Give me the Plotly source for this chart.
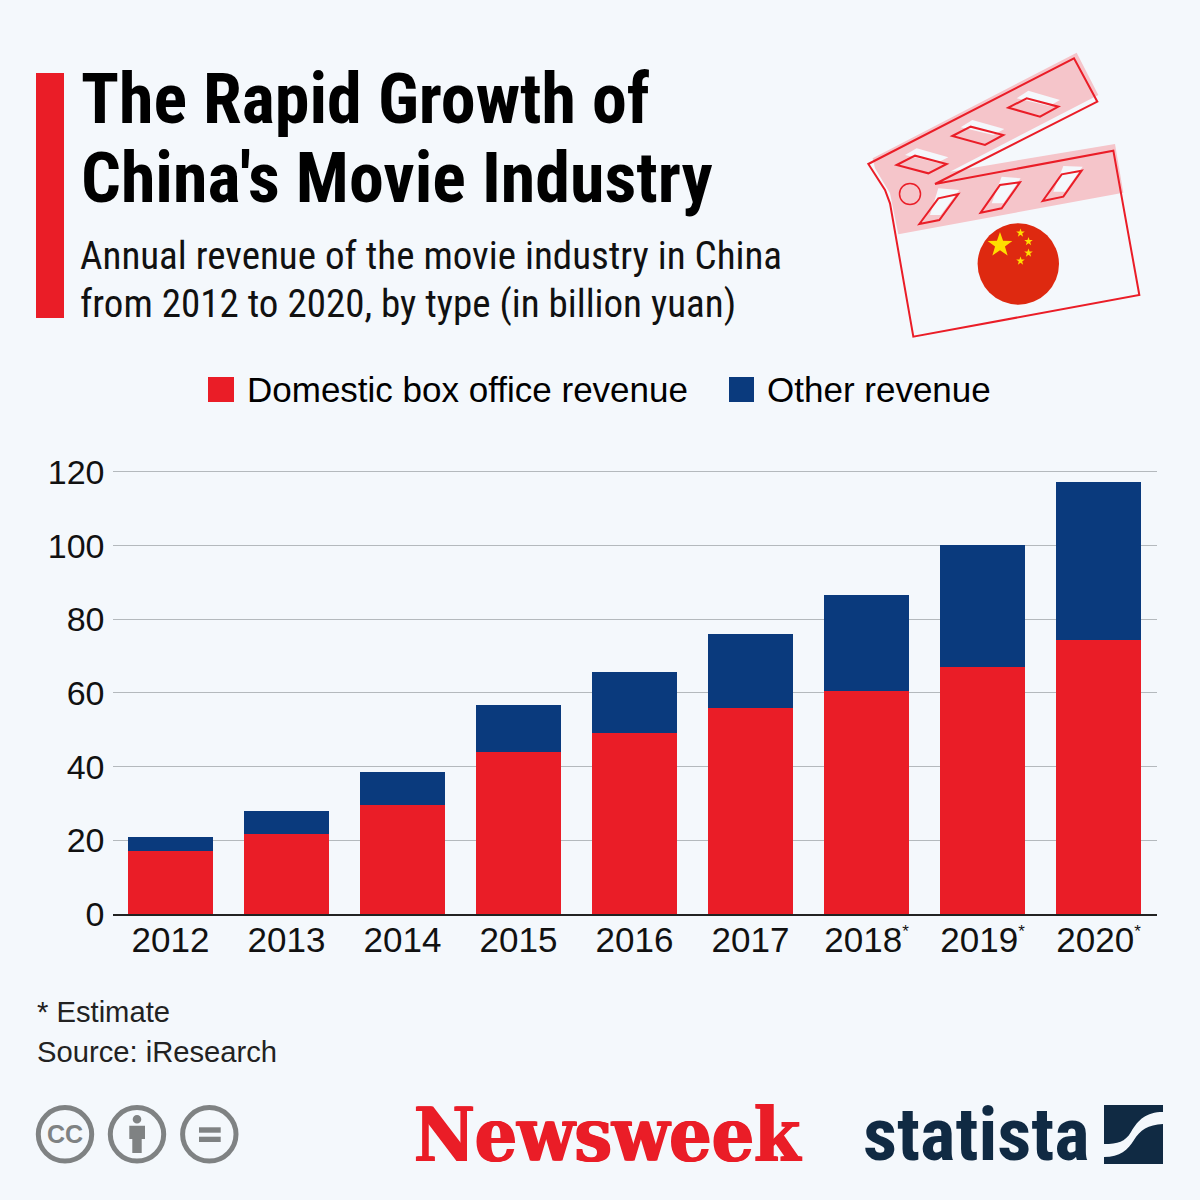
import math
import plotly.graph_objects as go

STAR = '<sup><span style="font-size:17px">*</span></sup>'
years = ["2012", "2013", "2014", "2015", "2016", "2017",
         "2018" + STAR, "2019" + STAR, "2020" + STAR]
box_office = [17.1, 21.7, 29.6, 44.0, 49.1, 55.9, 60.5, 67.0, 74.4]
other = [3.8, 6.3, 9.0, 12.7, 16.6, 20.1, 26.1, 33.2, 42.9]
y_ticks = [0, 20, 40, 60, 80, 100, 120]

title_lines = ["The Rapid Growth of", "China's Movie Industry"]
subtitle_lines = ["Annual revenue of the movie industry in China",
                  "from 2012 to 2020, by type (in billion yuan)"]
names = ["Domestic box office revenue", "Other revenue"]

BG = "#f4f8fc"
RED = "#ea1d27"
BLUE = "#0a3a7d"
PINK = "#f5c5ca"
GRAY = "#7f8283"
NAVY = "#102a43"
SIZE = 1200
NARROW = "Roboto Condensed"
ARIAL = "Liberation Sans"

# y axis runs a bit past 120, plotly drops a gridline that sits on the top edge
Y_MAX = 121
Y_ZERO_PX = 914
Y_UNIT_PX = (914 - 472) / 120


# margins are 0, so paper coords are just pixels / 1200
def px(x):
    return x / SIZE


def py(y):
    return 1 - y / SIZE


def poly(points):
    return "M " + " L ".join(f"{px(x):.5f},{py(y):.5f}" for x, y in points) + " Z"


def zoomed(points):
    return [(850 + x / 3, 40 + y / 3) for x, y in points]


def star(cx, cy, r):
    pts = []
    for i in range(10):
        rad = r if i % 2 == 0 else r * 0.4
        a = math.radians(-90 + 36 * i)
        pts.append((cx + rad * math.cos(a), cy + rad * math.sin(a)))
    return pts


shapes = []


def add_path(path, fill=None, line=None, width=0):
    shapes.append(dict(type="path", path=path, xref="paper", yref="paper",
                       fillcolor=fill or "rgba(0,0,0,0)",
                       line=dict(color=line or "rgba(0,0,0,0)", width=width)))


def add_poly(points, fill=None, line=None, width=0):
    add_path(poly(points), fill, line, width)


def add_rect(x0, y0, x1, y1, fill):
    shapes.append(dict(type="rect", xref="paper", yref="paper", x0=px(x0), x1=px(x1),
                       y0=py(y0), y1=py(y1), fillcolor=fill, line=dict(width=0)))


def add_circle(cx, cy, r, fill=None, line=None, width=0):
    shapes.append(dict(type="circle", xref="paper", yref="paper",
                       x0=px(cx - r), x1=px(cx + r), y0=py(cy - r), y1=py(cy + r),
                       fillcolor=fill or "rgba(0,0,0,0)",
                       line=dict(color=line or "rgba(0,0,0,0)", width=width)))


def curve(start, *segments):
    # 2 numbers is a line, 6 numbers a cubic bezier, all in pixels
    d = f"M {px(start[0]):.5f},{py(start[1]):.5f}"
    for s in segments:
        if len(s) == 2:
            d += f" L {px(s[0]):.5f},{py(s[1]):.5f}"
        else:
            d += (f" C {px(s[0]):.5f},{py(s[1]):.5f} {px(s[2]):.5f},{py(s[3]):.5f}"
                  f" {px(s[4]):.5f},{py(s[5]):.5f}")
    return d + " Z"


# red bar next to the title
add_rect(36, 73, 64, 318, RED)

# legend
add_rect(208, 377, 234, 402, RED)
add_rect(729, 377, 754, 402, BLUE)

# clapperboard, pink parts first
add_poly(zoomed([(68, 355), (680, 38), (745, 165), (300, 395), (795, 312), (820, 458),
                 (145, 583), (120, 460), (75, 385)]), fill=PINK)
for p in [[(165, 345), (200, 325), (295, 352), (262, 368)],
          [(332, 262), (367, 240), (463, 267), (430, 285)],
          [(500, 175), (535, 152), (630, 180), (598, 198)],
          [(240, 525), (265, 445), (328, 450), (272, 525)],
          [(425, 490), (455, 410), (512, 415), (460, 490)],
          [(610, 455), (640, 378), (698, 380), (645, 455)]]:
    add_poly(zoomed(p), fill=BG)
add_poly(zoomed([(55, 372), (672, 55), (742, 185), (255, 432), (790, 332), (868, 765),
                 (190, 890), (120, 490), (105, 450)]), line=RED, width=2)
for p in [[(140, 375), (195, 347), (290, 372), (235, 400)],
          [(307, 288), (362, 260), (460, 285), (405, 315)],
          [(475, 203), (530, 175), (625, 200), (570, 230)],
          [(208, 552), (265, 475), (325, 462), (268, 540)],
          [(392, 518), (450, 435), (510, 427), (455, 505)],
          [(578, 483), (635, 403), (695, 392), (640, 470)]]:
    add_poly(zoomed(p), line=RED, width=2)
add_circle(850 + 180 / 3, 40 + 462 / 3, 10.5, line=RED, width=1.5)

# flag
add_circle(1018.3, 264, 40.7, fill="#de2910")
add_poly(star(1000, 245, 13), fill="#ffde00")
for sx, sy in [(1020.5, 233), (1028.5, 241.5), (1028.5, 253), (1020.5, 261)]:
    add_poly(star(sx, sy, 4.5), fill="#ffde00")

# licence icons
for cx in [65, 137, 209.3]:
    add_circle(cx, 1134.3, 26.7, line=GRAY, width=5)
add_circle(137, 1119.3, 4.3, fill=GRAY)
add_poly([(129.3, 1125.7), (145, 1125.7), (145, 1139), (141.7, 1139), (141.7, 1153), (132.3, 1153),
          (132.3, 1139), (129.3, 1139)], fill=GRAY)
add_rect(199, 1127.3, 220.7, 1132.7, GRAY)
add_rect(199, 1136.7, 220.7, 1142, GRAY)

# statista mark, two dark pieces with the S left open between them
add_path(curve((1104, 1105), (1163, 1105), (1163, 1112),
               (1146, 1112, 1138, 1120, 1131, 1132), (1125, 1142, 1118, 1144, 1104, 1144)),
         fill=NAVY)
add_path(curve((1163, 1124), (1163, 1164), (1104, 1164), (1104, 1157),
               (1120, 1157, 1128, 1150, 1134, 1140), (1140, 1130, 1148, 1125, 1163, 1124)),
         fill=NAVY)


def note(x, y, text, size, color="#000000", family=ARIAL, anchor="left", bold=False, shadow=None):
    font = dict(family=family, size=size, color=color, weight="bold" if bold else "normal")
    if shadow:
        font["shadow"] = shadow
    return dict(x=px(x), y=py(y), xref="paper", yref="paper", text=text, showarrow=False,
                xanchor=anchor, yanchor="middle", font=font)


annotations = [
    note(78.5, 99, title_lines[0], 70, family=NARROW, bold=True),
    note(78.5, 178, title_lines[1], 70, family=NARROW, bold=True),
    note(78, 256, subtitle_lines[0], 39, color="#111111", family=NARROW),
    note(78, 304, subtitle_lines[1], 39, color="#111111", family=NARROW),
    note(245, 390, names[0], 35),
    note(765, 390, names[1], 35),
    note(35, 1012, "* Estimate", 29.2, color="#222222"),
    note(35, 1052, "Source: iResearch", 29.2, color="#222222"),
    note(65, 1134, "CC", 25, color=GRAY, anchor="center", bold=True),
    note(608, 1135, "Newsweek", 74, color=RED, family="DejaVu Serif Condensed", anchor="center", bold=True,
         shadow=f"1px 0 0 {RED}, -1px 0 0 {RED}"),
    note(976, 1134, "statista", 75, color=NAVY, family=NARROW, anchor="center", bold=True),
]

fig = go.Figure()
fig.add_bar(x=years, y=box_office, name=names[0], marker=dict(color=RED, line=dict(width=0)))
fig.add_bar(x=years, y=other, name=names[1], marker=dict(color=BLUE, line=dict(width=0)))

fig.update_layout(
    barmode="stack",
    bargap=0.275,
    showlegend=False,
    width=SIZE,
    height=SIZE,
    margin=dict(l=0, r=0, t=0, b=0, pad=0),
    paper_bgcolor=BG,
    plot_bgcolor=BG,
    font=dict(family=ARIAL, size=35, color="#111111"),
    shapes=shapes,
    annotations=annotations,
)
fig.update_xaxes(domain=[112.5 / SIZE, 1156.5 / SIZE], automargin=False, showgrid=False, ticks="",
                 showline=True, linecolor="#222222", linewidth=1.5, ticklabelstandoff=-6)
fig.update_yaxes(domain=[1 - Y_ZERO_PX / SIZE, 1 - (Y_ZERO_PX - Y_MAX * Y_UNIT_PX) / SIZE],
                 automargin=False, range=[0, Y_MAX], tickvals=y_ticks,
                 showgrid=True, gridcolor="#b4b9bd", gridwidth=1, zeroline=False,
                 ticks="", ticklabelstandoff=7, tickfont=dict(size=34))

# the page has a default body margin, the chart should touch the window edge
fig.write_html("out.html", config={"displayModeBar": False},
               post_script="document.body.style.margin='0';document.documentElement.style.overflow='hidden';")
